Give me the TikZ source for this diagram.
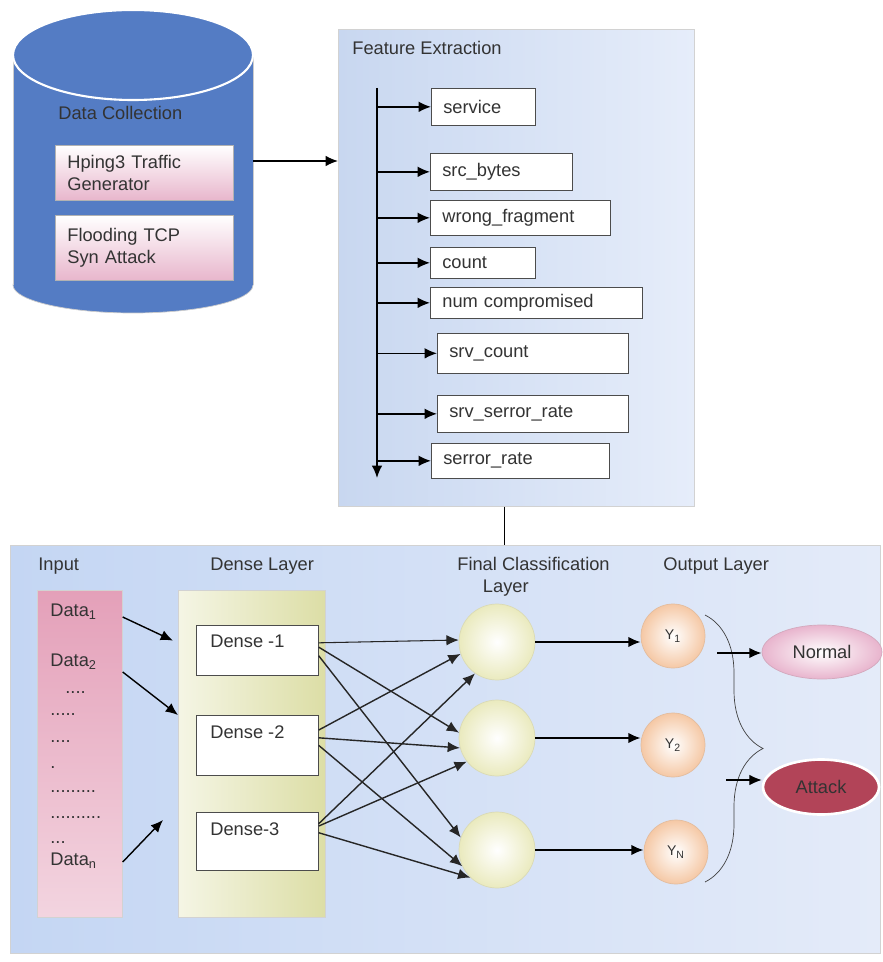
\documentclass[tikz,border=0pt]{standalone}
\usepackage{fontspec}
\setmainfont{Liberation Sans}
\usetikzlibrary{shapes,arrows,arrows.meta,positioning,calc,decorations.pathreplacing}
\definecolor{cylblue}{RGB}{84,124,196}
\definecolor{boxpink}{RGB}{232,182,204}
\definecolor{fepanel}{RGB}{200,215,240}
\definecolor{fepanellight}{RGB}{230,237,250}
\definecolor{nnpanel}{RGB}{196,214,243}
\definecolor{nnpanellight}{RGB}{228,235,249}
\definecolor{inpink}{RGB}{228,160,185}
\definecolor{densegreen}{RGB}{214,216,150}
\definecolor{cream}{RGB}{234,234,190}
\definecolor{peach}{RGB}{245,200,165}
\definecolor{normalpink}{RGB}{232,180,205}
\definecolor{attackred}{RGB}{178,68,88}
\definecolor{textgray}{RGB}{51,51,51}

\begin{document}
\begin{tikzpicture}[x=0.02cm, y=-0.02cm, >={Latex[length=7pt,width=6pt]},
    every node/.style={font=\fontsize{10.4}{12.5}\selectfont, text=textgray},
    lbl/.style={anchor=west, inner sep=0pt},
    dots/.style={anchor=base west, inner sep=0pt},
    panel/.style={anchor=north west, draw=gray!35, inner sep=0pt},
    pinkbox/.style={draw=gray!60, top color=white, bottom color=boxpink, anchor=north west, text width=3.08cm, inner xsep=0.24cm, align=left},
    feat/.style={draw=black!70, fill=white, anchor=north west, inner xsep=0.24cm, align=left, text width=#1},
    densebox/.style={draw=black!70, fill=white, anchor=north west, minimum width=2.44cm},
    hidden/.style={circle, minimum size=1.52cm, inner color=white, outer color=cream, draw=cream!85!gray},
    outnode/.style={circle, minimum size=1.28cm, inner color=white, outer color=peach, draw=peach!85!gray, font=\fontsize{8}{10}\selectfont},
    mesh/.style={->, thick, black!85}]

  \useasboundingbox (0,0) rectangle (882,962);

  % data collection cylinder
  \filldraw[fill=cylblue, draw=gray!40] (133,285) ellipse [x radius=120, y radius=28];
  \fill[cylblue] (13,55) rectangle (253,285);
  \draw[gray!40] (13,55) -- (13,285) (253,55) -- (253,285);
  \filldraw[fill=cylblue, draw=white, line width=1.2pt] (133,55) ellipse [x radius=120, y radius=45];
  \node[lbl] (dctitle) at (58,113) {Data Collection};
  \node[pinkbox, minimum height=1.1cm] (hping) at (55,145) {Hping3 Traffic\\Generator};
  \node[pinkbox, minimum height=1.3cm] (flood) at (55,215) {Flooding TCP\\Syn Attack};
  \coordinate (dcout) at (253,161);

  % feature extraction
  \node[panel, left color=fepanel, right color=fepanellight, minimum width=7.12cm, minimum height=9.54cm] (fe) at (338,29) {};
  \node[lbl] (fetitle) at (352,48) {Feature Extraction};
  \node[feat=1.60cm, minimum height=0.74cm] (service) at (431,88) {service};
  \node[feat=2.36cm, minimum height=0.74cm] (srcbytes) at (430,153) {src\_bytes};
  \node[feat=3.12cm, minimum height=0.70cm] (wrongfrag) at (430,200) {wrong\_fragment};
  \node[feat=1.62cm, minimum height=0.62cm] (count) at (430,247) {count};
  \node[feat=3.76cm, minimum height=0.62cm] (numcomp) at (430,287) {num compromised};
  \node[feat=3.34cm, minimum height=0.80cm] (srvcount) at (437,333) {srv\_count};
  \node[feat=3.34cm, minimum height=0.74cm] (srvserror) at (437,395) {srv\_serror\_rate};
  \node[feat=3.08cm, minimum height=0.70cm] (serror) at (431,443) {serror\_rate};
  \coordinate (spinetop) at (377,88);
  \coordinate (spinebot) at (377,478);

  \draw[->, thick] (dcout) -- (dcout -| fe.west);
  \draw[->, line width=1pt] (spinetop) -- (spinebot);
  \draw[->, thick] (spinetop |- service.west) -- (service.west);
  \draw[->, thick] (spinetop |- srcbytes.west) -- (srcbytes.west);
  \draw[->, thick] (spinetop |- wrongfrag.west) -- (wrongfrag.west);
  \draw[->, thick] (spinetop |- count.west) -- (count.west);
  \draw[->, thick] (spinetop |- numcomp.west) -- (numcomp.west);
  \draw[->, thick] (spinetop |- srvcount.west) -- (srvcount.west);
  \draw[->, thick] (spinetop |- srvserror.west) -- (srvserror.west);
  \draw[->, thick] (spinetop |- serror.west) -- (serror.west);

  % classifier network
  \node[panel, left color=nnpanel, right color=nnpanellight, minimum width=17.4cm, minimum height=8.16cm] (nn) at (10,545) {};
  \draw[thick] ($(fe.south)+(-12,0)$) -- ($(fe.south |- nn.north)+(-12,0)$);

  \node[lbl] (inputhead) at (38,566) {Input};
  \node[lbl] (densehead) at (210,566) {Dense Layer};
  \node[lbl, align=left] (finalhead) at (457,577) {Final Classification\\\hspace*{1.4em}Layer};
  \node[lbl] (outhead) at (663,566) {Output Layer};

  \node[panel, top color=inpink, bottom color=inpink!45, minimum width=1.7cm, minimum height=6.54cm] (inp) at (37,590) {};
  \node[lbl] (data1) at (50,612) {Data\textsubscript{1}};
  \node[lbl] (data2) at (50,662) {Data\textsubscript{2}};
  \node[dots] (dots1) at (65,693) {....};
  \node[dots] (dots2) at (50,715) {.....};
  \node[dots] (dots3) at (50,742) {....};
  \node[dots] (dots4) at (50,768) {.};
  \node[dots] (dots5) at (50,792) {.........};
  \node[dots] (dots6) at (50,818) {..........};
  \node[dots] (dots7) at (50,843) {...};
  \node[lbl] (datan) at (50,861) {Data\textsubscript{n}};

  \node[panel, left color=densegreen!25, right color=densegreen!85, minimum width=2.94cm, minimum height=6.54cm] (dl) at (178,590) {};
  \node[densebox, minimum height=1cm, label={[anchor=north west, inner sep=0pt, xshift=0.28cm, yshift=-0.2cm]north west:Dense -1}] (d1) at (196,625) {};
  \node[densebox, minimum height=1.2cm, label={[anchor=north west, inner sep=0pt, xshift=0.28cm, yshift=-0.2cm]north west:Dense -2}] (d2) at (196,715) {};
  \node[densebox, minimum height=1.16cm, label={[anchor=north west, inner sep=0pt, xshift=0.28cm, yshift=-0.2cm]north west:Dense-3}] (d3) at (196,812) {};

  \draw[->, thick] ($(inp.east |- data1)+(0,5)$) -- ($(dl.west |- d1.171)+(-5,0)$);
  \draw[->, thick] ($(inp.east |- data2)+(0,10)$) -- (dl.west |- d2.north);
  \draw[->, thick] ($(inp.east |- datan)+(0,1)$) -- ($(dl.west |- d3.north)+(-15,8)$);

  \node[hidden] (fc1) at (497,642) {};
  \node[hidden] (fc2) at (497,738) {};
  \node[hidden] (fc3) at (497,850) {};

  \draw[mesh, semithick] (d1.7) -- (fc1.177);
  \draw[mesh] (d1.3) -- (fc2.172);
  \draw[mesh] (d1.-5) -- (fc3.161);
  \draw[mesh] (d2.14) -- (fc1.198);
  \draw[mesh] (d2.7) -- (fc2.195);
  \draw[mesh] (d2.0) -- (fc3.205);
  \draw[mesh] (d3.16) -- (fc1.235);
  \draw[mesh] (d3.14) -- (fc2.218);
  \draw[mesh] (d3.8) -- (fc3.226);

  \node[outnode] (y1) at (673,636) {Y\textsubscript{1}};
  \node[outnode] (y2) at (673,745) {Y\textsubscript{2}};
  \node[outnode] (yn) at (676,852) {Y\textsubscript{N}};

  \draw[->, line width=1.1pt] (fc1) -- (fc1 -| y1.west);
  \draw[->, line width=1.1pt] (fc2) -- (fc2 -| y2.west);
  \draw[->, line width=1.1pt] (fc3) -- (fc3 -| yn.west);

  \draw[black!75, decorate, decoration={brace, amplitude=1.16cm}] (705,615) -- (705,882);

  \node[ellipse, minimum width=2.4cm, minimum height=1.08cm, inner color=white, outer color=normalpink, draw=normalpink!80!gray] (normal) at (822,652) {Normal};
  \node[ellipse, minimum width=2.32cm, minimum height=1.1cm, fill=attackred, draw=white, line width=1.5pt] (attack) at (821,787) {Attack};
  \coordinate (brnormal) at (717,653);
  \coordinate (brattack) at (726,780);

  \draw[->, line width=1.1pt] (brnormal) -- (brnormal -| normal.west);
  \draw[->, semithick] (brattack) -- (brattack -| attack.west);
\end{tikzpicture}
\end{document}
